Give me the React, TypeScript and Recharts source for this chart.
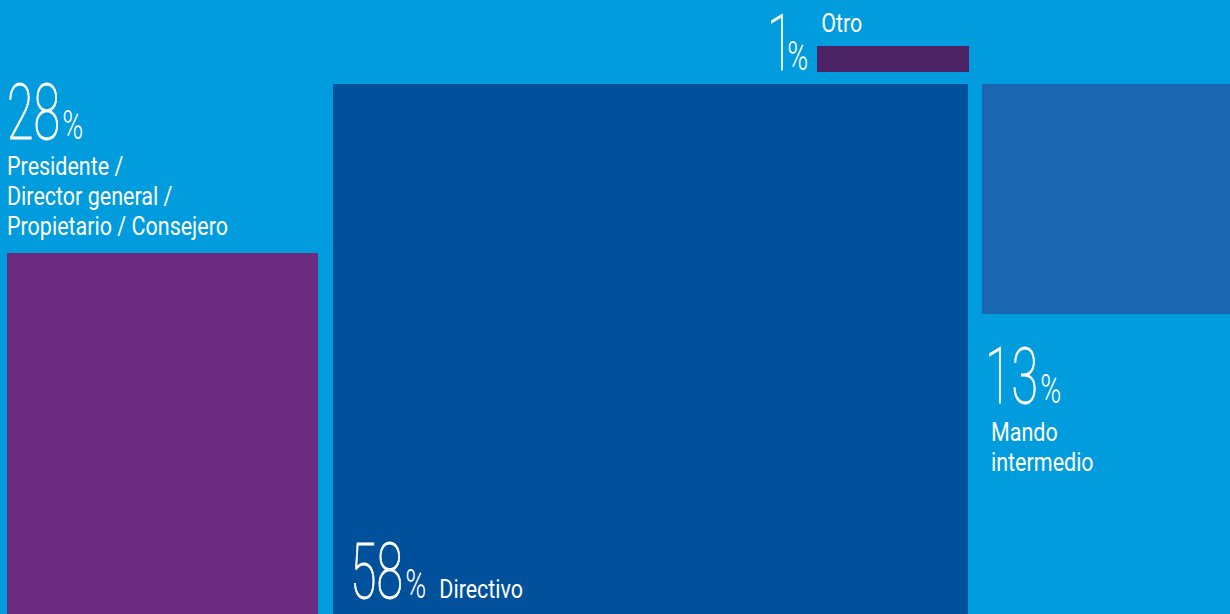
import { ComposedChart, XAxis, YAxis, ReferenceArea, Scatter } from "recharts"

const W = 1230
const H = 614

// categories and their shares (%)
const names = [
  ["Presidente /", "Director general /", "Propietario / Consejero"],
  ["Directivo"],
  ["Mando", "intermedio"],
  ["Otro"],
]
const shares = [28, 58, 13, 1]
const colors = ["#6B2C80", "#00509B", "#1A66B0", "#4B2264"]

// mosaic extents, in chart units (x left->right, y top->bottom)
const boxLeft = [7, 333, 982, 817]
const boxRight = [318, 968, 1230, 969]
const boxTop = [253, 84, 84, 46]
const boxBottom = [614, 614, 314, 72]

// where each share number sits (left edge, baseline)
const numX = [7, 350, 985, 767]
const numY = [139, 598, 403, 70]

const points = shares.map((s, i) => ({ x: numX[i], y: numY[i], share: s, idx: i }))

const NUM_SIZE = 78
const NUM_SX = 0.62
const DIGIT = 0.5615 * NUM_SIZE * NUM_SX
const NAME_SX = 0.86

function ShareLabel(props: any) {
  const { cx, cy, payload } = props
  if (cx == null || cy == null) return null
  const i = payload.idx
  const digits = String(payload.share)
  const pctX = digits.length * DIGIT + (i === 3 ? -7 : 1)
  const lines: string[] = names[i]
  let nameX = 0
  let nameY = 36
  if (i === 1) {
    nameX = pctX + 34
    nameY = 0
  } else if (i === 2) {
    nameX = 6
    nameY = 38
  } else if (i === 3) {
    nameX = pctX + 34
    nameY = -38
  }
  return (
    <g transform={`translate(${cx},${cy})`}>
      <text
        transform={`scale(${NUM_SX},1)`}
        fontFamily="Roboto, sans-serif"
        fontWeight={100}
        fontSize={NUM_SIZE}
        fill="#fff"
        stroke="#fff"
        strokeWidth={1}
      >
        {digits}
      </text>
      <text
        x={pctX}
        fontFamily="Roboto, sans-serif"
        fontWeight={300}
        fontSize={41}
        fill="#fff"
        textLength={21}
        lengthAdjust="spacingAndGlyphs"
      >
        %
      </text>
      <g transform={`translate(${nameX},${nameY}) scale(${NAME_SX},1)`}>
        {lines.map((ln, k) => (
          <text key={k} x={0} y={k * 30} fontFamily="Roboto, sans-serif" fontSize={25} fill="#fff">
            {ln}
          </text>
        ))}
      </g>
    </g>
  )
}

export default function App() {
  return (
    <div
      style={{
        position: "absolute",
        left: 0,
        top: 0,
        width: W,
        height: H,
        background: "#009CDD",
      }}
    >
      <ComposedChart width={W} height={H} margin={{ top: 0, right: 0, bottom: 0, left: 0 }}>
        <XAxis type="number" dataKey="x" domain={[0, W]} hide allowDataOverflow />
        <YAxis type="number" dataKey="y" domain={[0, H]} reversed hide allowDataOverflow />
        {shares.map((s, i) => (
          <ReferenceArea
            key={i}
            x1={boxLeft[i]}
            x2={boxRight[i]}
            y1={boxTop[i]}
            y2={boxBottom[i]}
            fill={colors[i]}
            fillOpacity={1}
            stroke="none"
            ifOverflow="visible"
          />
        ))}
        <Scatter data={points} dataKey="y" isAnimationActive={false} shape={(p: any) => <ShareLabel {...p} />} />
      </ComposedChart>
    </div>
  )
}
